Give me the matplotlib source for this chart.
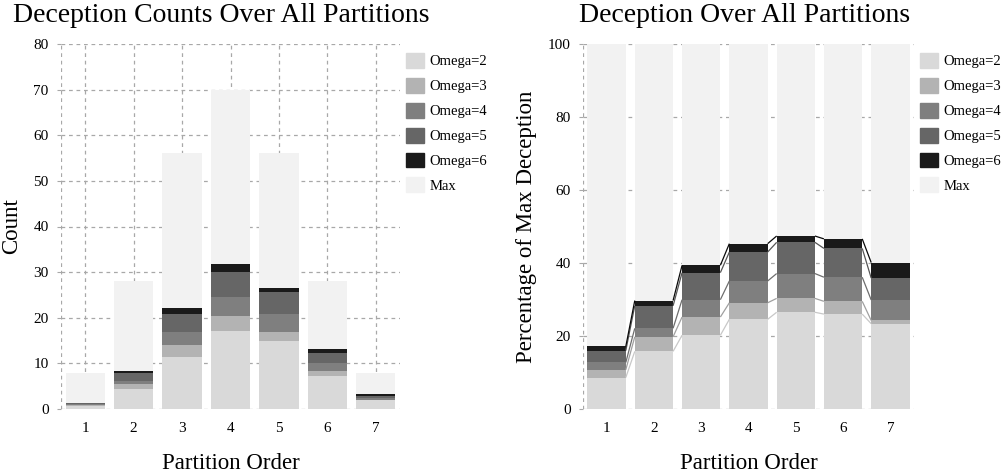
import matplotlib
matplotlib.use("Agg")
import matplotlib.pyplot as plt
import matplotlib.patches as mpatches
import numpy as np

plt.rcParams['font.family'] = ['Liberation Serif', 'DejaVu Serif']

partitions = [1, 2, 3, 4, 5, 6, 7]
max_counts = [8, 28, 56, 70, 56, 28, 8]
omega2 = [0.69, 4.42, 11.31, 17.20, 14.84, 7.28, 1.87]
omega3 = [0.17, 1.12, 2.80, 3.17, 2.13, 0.98, 0.07]
omega4 = [0.16, 0.65, 2.66, 4.18, 3.81, 1.85, 0.45]
omega5 = [0.26, 1.73, 4.15, 5.55, 4.79, 2.21, 0.48]
omega6 = [0.09, 0.40, 1.12, 1.61, 0.97, 0.73, 0.34]
labels = ['Omega=2', 'Omega=3', 'Omega=4', 'Omega=5', 'Omega=6', 'Max']
colors = ['#d9d9d9', '#b3b3b3', '#7f7f7f', '#666666', '#1a1a1a', '#f2f2f2']
line_colors = ['#c8c8c8', '#a0a0a0', '#6e6e6e', '#555555', '#0a0a0a']

W, H = 1005, 476
fig = plt.figure(figsize=(W / 100, H / 100), dpi=100)

def px_axes(x0, x1, ytop, ybot):
    return fig.add_axes([x0 / W, 1 - ybot / H, (x1 - x0) / W, (ybot - ytop) / H])

ax1 = px_axes(61, 400, 44, 409)
ax2 = px_axes(583, 914, 44, 409)

x = np.array(partitions, dtype=float)
mx = np.array(max_counts, dtype=float)
layers = [np.array(v) for v in (omega2, omega3, omega4, omega5, omega6)]
omega_total = sum(layers)
counts_layers = layers + [mx - omega_total]
pct_layers = [l / mx * 100 for l in layers] + [100 - omega_total / mx * 100]

bw = 0.81
grid_kw = dict(color='#a8a8a8', linestyle=(0, (3, 3)), linewidth=0.9)

def style(ax, ymax, ystep):
    ax.set_xlim(0.5, 7.5)
    ax.set_ylim(0, ymax)
    ax.set_yticks(np.arange(0, ymax + 1, ystep))
    ax.set_xticks(partitions)
    for s in ax.spines.values():
        s.set_visible(False)
    ax.set_axisbelow(True)
    ax.grid(True, **grid_kw)
    ax.axvline(0.5, zorder=0.5, **grid_kw)
    ax.tick_params(axis='y', length=3, color='#a8a8a8', pad=6, labelsize=11)
    ax.tick_params(axis='x', length=0, pad=9, labelsize=11)
    ax.set_xlabel('Partition Order', fontsize=16.5, labelpad=13)

def draw(ax, data):
    bottom = np.zeros(len(x))
    tops = []
    for d, c, lab in zip(data, colors, labels):
        ax.bar(x, d, bw, bottom=bottom, color=c, edgecolor='none', label=lab, zorder=2)
        bottom = bottom + d
        tops.append(bottom.copy())
    return tops

style(ax1, 80, 10)
draw(ax1, counts_layers)
ax1.set_ylabel('Count', fontsize=16.5, labelpad=8)

style(ax2, 100, 20)
tops = draw(ax2, pct_layers)
for t, lc in zip(tops[:5], line_colors):
    for i in range(len(x) - 1):
        ax2.plot([x[i] + bw / 2, x[i + 1] - bw / 2], [t[i], t[i + 1]],
                 color=lc, linewidth=0.9, zorder=3, solid_capstyle='butt')
ax2.set_ylabel('Percentage of Max Deception', fontsize=16.5, labelpad=8)

fig.text(221 / W, 1 - 15 / H, 'Deception Counts Over All Partitions', ha='center', va='center', fontsize=20)
fig.text(745 / W, 1 - 15 / H, 'Deception Over All Partitions', ha='center', va='center', fontsize=20)

handles = [mpatches.Patch(color=c, label=l) for c, l in zip(colors, labels)]
for xl in (406, 920):
    fig.legend(handles=handles, loc='upper left', bbox_to_anchor=(xl / W, 1 - 53 / H),
               frameon=False, fontsize=10.5, handlelength=1.2, handleheight=1.2,
               labelspacing=0.65, handletextpad=0.4, borderpad=0, borderaxespad=0)

fig.savefig('out.png', dpi=100)
